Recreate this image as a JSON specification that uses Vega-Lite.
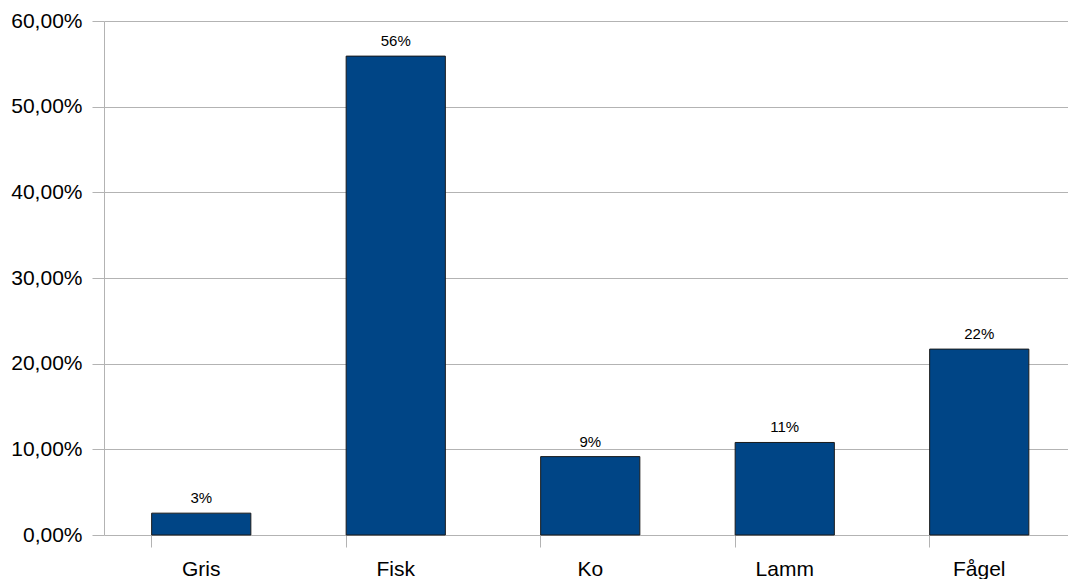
{
  "$schema": "https://vega.github.io/schema/vega-lite/v6.json",
  "autosize": {"type": "none"},
  "width": 964,
  "height": 514,
  "padding": {"left": 104, "top": 21, "right": 0, "bottom": 44},
  "background": "white",
  "config": {
    "view": {"stroke": null},
    "font": "Liberation Sans"
  },
  "data": {
    "values": [
      {"cat": "Gris", "value": 0.0255},
      {"cat": "Fisk", "value": 0.559},
      {"cat": "Ko", "value": 0.0915},
      {"cat": "Lamm", "value": 0.108},
      {"cat": "Fågel", "value": 0.217}
    ]
  },
  "encoding": {
    "x": {
      "field": "cat",
      "type": "nominal",
      "sort": null,
      "scale": {"range": [0, 972.5], "paddingInner": 0.49, "paddingOuter": 0.245},
      "axis": {
        "title": null,
        "labelAngle": 0,
        "labelFont": "Liberation Sans",
        "labelFontSize": 21,
        "labelColor": "#000000",
        "labelPadding": 11,
        "bandPosition": 0,
        "tickColor": "#b3b3b3",
        "tickSize": 12,
        "domain": false,
        "grid": false
      }
    },
    "y": {
      "field": "value",
      "type": "quantitative",
      "scale": {"domain": [0, 0.6], "nice": false},
      "axis": {
        "title": null,
        "values": [0, 0.1, 0.2, 0.3, 0.4, 0.5, 0.6],
        "labelExpr": "replace(format(datum.value, '.2%'), '.', ',')",
        "labelFont": "Liberation Sans",
        "labelFontSize": 21,
        "labelColor": "#000000",
        "labelPadding": 10,
        "tickColor": "#b3b3b3",
        "tickSize": 12,
        "domainColor": "#b3b3b3",
        "gridColor": "#b3b3b3",
        "grid": true
      }
    }
  },
  "layer": [
    {
      "mark": {"type": "bar", "fill": "#004586", "stroke": "#1a1a1a", "strokeWidth": 1}
    },
    {
      "mark": {"type": "text", "baseline": "alphabetic", "dy": -10, "font": "Liberation Sans", "fontSize": 15, "color": "#000000"},
      "encoding": {
        "text": {"field": "value", "type": "quantitative", "format": ".0%"}
      }
    }
  ]
}
